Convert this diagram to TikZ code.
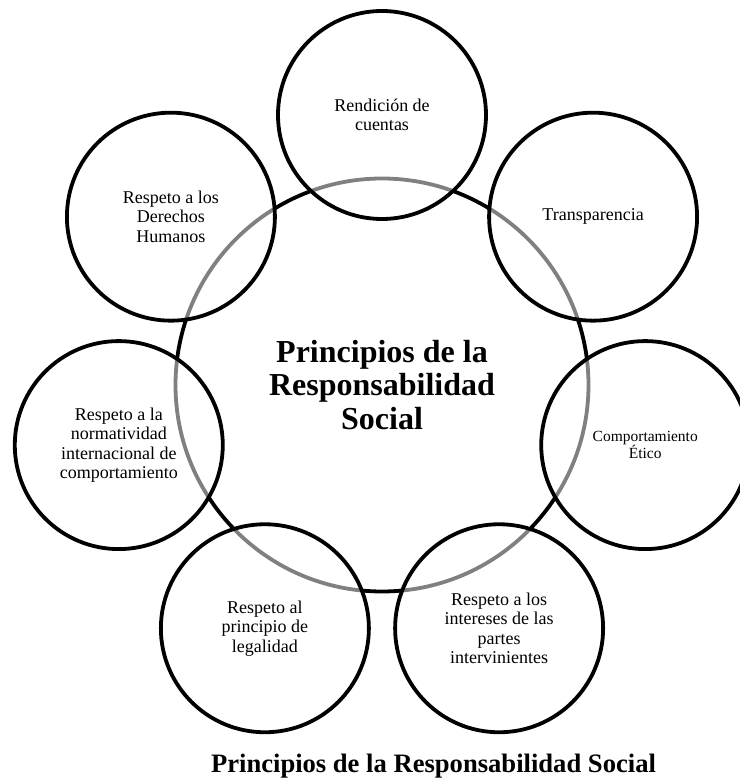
\documentclass[tikz,border=0pt]{standalone}
\usepackage{fontspec}
\setmainfont{Liberation Serif}
\usepackage{tikz}
\pgfdeclarelayer{background}
\pgfsetlayers{background,main}
\tikzstyle{principio}=[circle, draw=black, line width=3.8pt, minimum size=208pt,
    inner sep=0pt, fill=white, fill opacity=0.5, text opacity=1,
    align=center, font=\fontsize{18}{19.5}\selectfont]
\tikzstyle{centro}=[circle, draw=black, line width=3.8pt, minimum size=413pt,
    align=center, font=\fontsize{32}{33.3}\selectfont\bfseries]

\begin{document}
\begin{tikzpicture}[x=1pt,y=1pt]
  \useasboundingbox (-382,-393) rectangle (357,385);

  \begin{pgfonlayer}{background}
    \node at (0,0) (rs)[centro] {Principios de la\\Responsabilidad\\Social};
  \end{pgfonlayer}

  % seven principles round the ring, 360/7 apart
  \node at (90:270) (rc)[principio] {Rendición de\\cuentas};
  \node at (38.57:270) (tr)[principio] {Transparencia};
  \node at (-12.86:270) (ce)[principio, font=\fontsize{15.5}{16}\selectfont] {Comportamiento\\Ético};
  \node at (-64.29:270) (ri)[principio] {Respeto a los\\intereses de las\\partes\\intervinientes};
  \node at (244.29:270) (rl)[principio] {Respeto al\\principio de\\legalidad};
  \node at (192.86:270) (rn)[principio] {Respeto a la\\normatividad\\internacional de\\comportamiento};
  \node at (141.43:270) (rdh)[principio] {Respeto a los\\Derechos\\Humanos};

  \node at (51.5,-387) (cap)[anchor=base, font=\fontsize{26.6}{30}\selectfont\bfseries]
    {Principios de la Responsabilidad Social};
\end{tikzpicture}
\end{document}
